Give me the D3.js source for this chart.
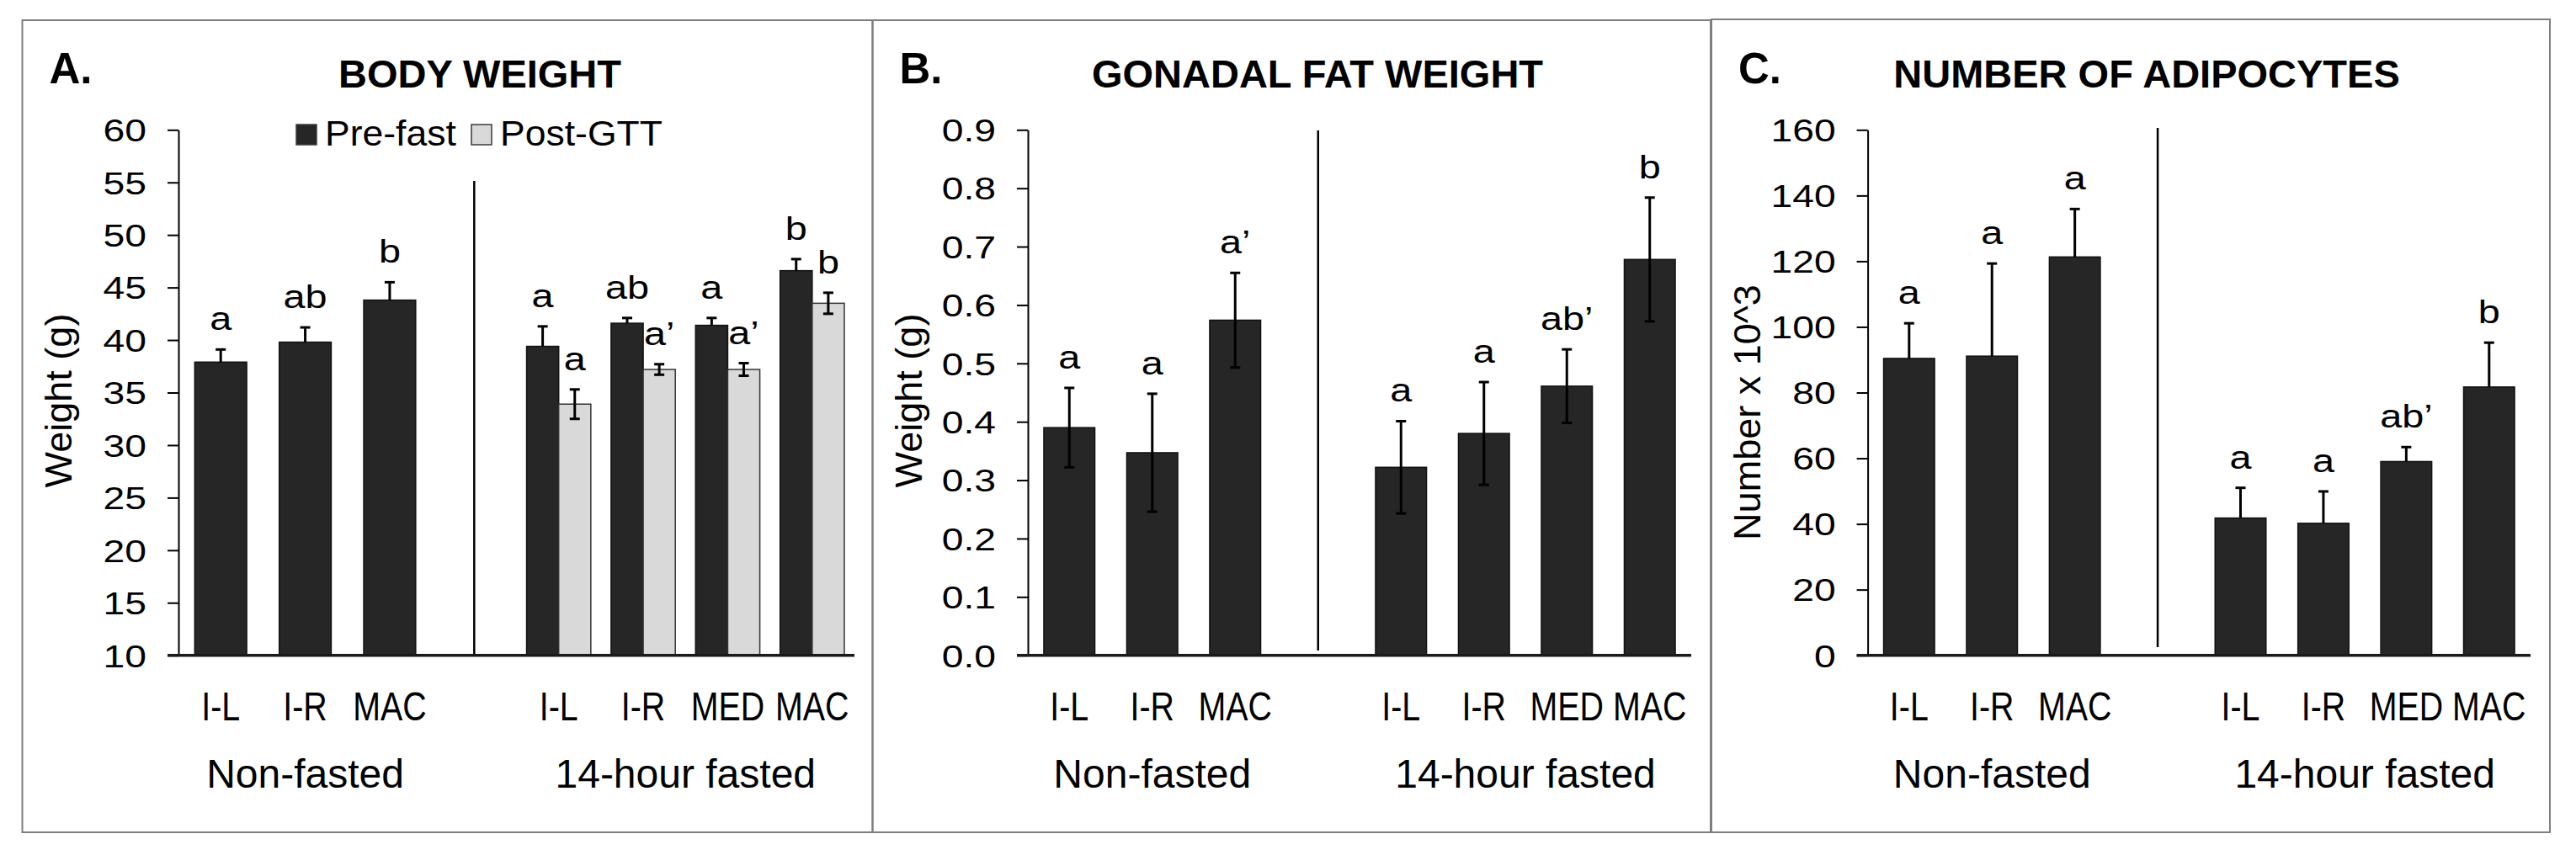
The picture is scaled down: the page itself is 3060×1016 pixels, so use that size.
<!DOCTYPE html>
<html>
<head>
<meta charset="utf-8">
<script src="https://cdn.jsdelivr.net/npm/d3@7"></script>
<style>
  body { margin: 0; background: #fff; }
  text { font-family: "Liberation Sans", Arial, sans-serif; fill: #000; }
</style>
</head>
<body>
<div class="Chart"></div>
<script>
// slot 3 is the empty gap that holds the divider line
const slotNames = ["I-L", "I-R", "MAC", "", "I-L", "I-R", "MED", "MAC"];
const groupNames = ["Non-fasted", "14-hour fasted"];
const seriesNames = ["Pre-fast", "Post-GTT"];

// A. body weight (g)
const bodyTicks = [10, 15, 20, 25, 30, 35, 40, 45, 50, 55, 60];
const bodyPreNF = [37.9, 39.8, 43.8];
const bodyPreNFErr = [1.2, 1.4, 1.7];
const bodyPreNFSig = ["a", "ab", "b"];
const bodyPreF = [39.4, 41.6, 41.4, 46.6];
const bodyPreFErr = [1.9, 0.5, 0.7, 1.1];
const bodyPreFSig = ["a", "ab", "a", "b"];
const bodyPostF = [33.9, 37.2, 37.2, 43.5];
const bodyPostFErr = [1.4, 0.5, 0.6, 1.0];
const bodyPostFSig = ["a", "a’", "a’", "b"];

// B. gonadal fat weight (g)
const fatTicks = [0, 0.1, 0.2, 0.3, 0.4, 0.5, 0.6, 0.7, 0.8, 0.9];
const fatNF = [0.390, 0.347, 0.574];
const fatNFErr = [0.068, 0.101, 0.081];
const fatNFSig = ["a", "a", "a’"];
const fatF = [0.322, 0.380, 0.461, 0.678];
const fatFErr = [0.079, 0.088, 0.063, 0.106];
const fatFSig = ["a", "a", "ab’", "b"];

// C. number of adipocytes (x 10^3)
const adipoTicks = [0, 20, 40, 60, 80, 100, 120, 140, 160];
const adipoNF = [90.4, 91.1, 121.3];
const adipoNFErr = [10.7, 28.2, 14.6];
const adipoNFSig = ["a", "a", "a"];
const adipoF = [41.8, 40.2, 59.0, 81.7];
const adipoFErr = [9.2, 9.7, 4.4, 13.5];
const adipoFSig = ["a", "a", "ab’", "b"];

const nfSlots = [0, 1, 2];
const fSlots = [4, 5, 6, 7];

const darkFill = "#262626";
const lightFill = "#d9d9d9";

const svg = d3.select(".Chart")
  .append("svg")
  .attr("width", 3060)
  .attr("height", 1016);

// text helper: stretched horizontally like the source figure
function label(g, x, y, txt, size, sx, anchor, weight) {
  return g.append("text")
    .attr("transform", `translate(${x},${y}) scale(${sx},1)`)
    .attr("text-anchor", anchor || "middle")
    .style("font-size", size + "px")
    .style("font-weight", weight || "normal")
    .text(txt);
}

const panels = [
  {
    letter: "A.", title: "BODY WEIGHT", yTitle: "Weight (g)",
    left: 26.5, right: 1036.5, top: 24, x0: 212, x1: 1015,
    titleX: 570, yTitleY: 476, divTop: 215, divBot: 779,
    ticks: bodyTicks, fmt: d3.format("d"),
    series: [
      { slots: nfSlots, values: bodyPreNF, err: bodyPreNFErr, sig: bodyPreNFSig, fill: darkFill, pos: "full", both: false },
      { slots: fSlots, values: bodyPreF, err: bodyPreFErr, sig: bodyPreFSig, fill: darkFill, pos: "left", both: false },
      { slots: fSlots, values: bodyPostF, err: bodyPostFErr, sig: bodyPostFSig, fill: lightFill, pos: "right", both: true }
    ],
    legend: true
  },
  {
    letter: "B.", title: "GONADAL FAT WEIGHT", yTitle: "Weight (g)",
    left: 1036.5, right: 2032, top: 24, x0: 1221, x1: 2009,
    titleX: 1565, yTitleY: 476, divTop: 155, divBot: 773,
    ticks: fatTicks, fmt: d3.format(".1f"),
    series: [
      { slots: nfSlots, values: fatNF, err: fatNFErr, sig: fatNFSig, fill: darkFill, pos: "full", both: true },
      { slots: fSlots, values: fatF, err: fatFErr, sig: fatFSig, fill: darkFill, pos: "full", both: true }
    ]
  },
  {
    letter: "C.", title: "NUMBER OF ADIPOCYTES", yTitle: "Number x 10^3",
    left: 2033, right: 3029, top: 23, x0: 2218.6, x1: 3006,
    titleX: 2550, yTitleY: 490, divTop: 152, divBot: 769,
    ticks: adipoTicks, fmt: d3.format("d"),
    series: [
      { slots: nfSlots, values: adipoNF, err: adipoNFErr, sig: adipoNFSig, fill: darkFill, pos: "full", both: false },
      { slots: fSlots, values: adipoF, err: adipoFErr, sig: adipoFSig, fill: darkFill, pos: "full", both: false }
    ]
  }
];

const plotTop = 154.3, plotBot = 778.7, bottom = 989;

panels.forEach(p => {
  const g = svg.append("g");

  // panel frame
  g.append("rect")
    .attr("x", p.left).attr("y", p.top)
    .attr("width", p.right - p.left).attr("height", bottom - p.top)
    .attr("fill", "none").attr("stroke", "#7f7f7f").attr("stroke-width", 2);

  label(g, p.left + 32, 99, p.letter, 51, 1, "start", "bold");
  label(g, p.titleX, 104, p.title, 47, 1, "middle", "bold");

  const y = d3.scaleLinear()
    .domain([p.ticks[0], p.ticks[p.ticks.length - 1]])
    .range([plotBot, plotTop]);

  const x = d3.scaleBand()
    .domain(d3.range(slotNames.length))
    .range([p.x0, p.x1]);
  const step = x.step();
  const center = s => x(s) + step / 2;

  // y axis
  g.append("g")
    .attr("transform", `translate(${p.x0},0)`)
    .call(d3.axisLeft(y).tickValues(p.ticks).tickFormat(p.fmt).tickSize(13).tickSizeOuter(0))
    .call(a => a.selectAll("line, path").attr("stroke", "#000").attr("stroke-width", 2))
    .call(a => a.selectAll(".tick text")
      .attr("x", -38 / 1.25)
      .attr("dy", "0.36em")
      .attr("transform", "scale(1.25,1)")
      .style("font-size", "37px"));

  // y axis title
  g.append("text")
    .attr("transform", `translate(${p.left + 58},${p.yTitleY}) rotate(-90)`)
    .attr("text-anchor", "middle")
    .style("font-size", "45px")
    .text(p.yTitle);

  // category labels
  g.append("g")
    .attr("transform", `translate(0,${plotBot})`)
    .call(d3.axisBottom(x).tickSize(0).tickFormat(i => slotNames[i]))
    .call(a => a.select(".domain").remove())
    .call(a => a.selectAll(".tick text")
      .attr("y", 77)
      .attr("dy", 0)
      .attr("transform", "scale(0.82,1)")
      .style("font-size", "48px"));

  // group labels
  label(g, d3.mean(nfSlots, center), plotBot + 157, groupNames[0], 48, 1);
  label(g, d3.mean(fSlots, center), plotBot + 157, groupNames[1], 48, 1);

  // divider between the two groups
  g.append("line")
    .attr("x1", center(3)).attr("x2", center(3))
    .attr("y1", p.divTop).attr("y2", p.divBot)
    .attr("stroke", "#000").attr("stroke-width", 2.5);

  // bars, error bars and letters
  p.series.forEach(s => {
    const rows = s.values.map((v, i) => ({ slot: s.slots[i], v: v, e: s.err[i], sig: s.sig[i] }));
    const w = s.pos === "full" ? step * 0.615 : step * 0.38;
    const bx = d => s.pos === "full" ? center(d.slot) - w / 2
      : s.pos === "left" ? center(d.slot) - w : center(d.slot);
    const cx = d => bx(d) + w / 2;

    g.selectAll(null).data(rows).enter()
      .append("rect")
      .attr("x", bx)
      .attr("y", d => y(d.v))
      .attr("width", w)
      .attr("height", d => plotBot - y(d.v))
      .attr("fill", s.fill)
      .attr("stroke", s.fill === lightFill ? "#333" : "#111")
      .attr("stroke-width", 1.5);

    const eb = g.selectAll(null).data(rows).enter().append("g")
      .attr("stroke", "#000").attr("stroke-width", 3);
    eb.append("line")
      .attr("x1", cx).attr("x2", cx)
      .attr("y1", d => y(d.v + d.e))
      .attr("y2", d => s.both ? y(d.v - d.e) : y(d.v));
    eb.append("line")
      .attr("x1", d => cx(d) - 6).attr("x2", d => cx(d) + 6)
      .attr("y1", d => y(d.v + d.e)).attr("y2", d => y(d.v + d.e));
    if (s.both) {
      eb.append("line")
        .attr("x1", d => cx(d) - 6).attr("x2", d => cx(d) + 6)
        .attr("y1", d => y(d.v - d.e)).attr("y2", d => y(d.v - d.e));
    }

    rows.forEach(d => label(g, cx(d), y(d.v + d.e) - 23, d.sig, 39, 1.2));
  });

  // x axis line, running out to the tick length like the source
  g.append("line")
    .attr("x1", p.x0 - 13).attr("x2", p.x1)
    .attr("y1", y(p.ticks[0])).attr("y2", y(p.ticks[0]))
    .attr("stroke", "#1a1a1a").attr("stroke-width", 3.5);

  if (p.legend) {
    const lx = [352, 560];
    const lg = g.append("g");
    seriesNames.forEach((name, i) => {
      lg.append("rect")
        .attr("x", lx[i]).attr("y", 148)
        .attr("width", 24).attr("height", 24)
        .attr("fill", i === 0 ? darkFill : lightFill)
        .attr("stroke", "#3a3a3a").attr("stroke-width", 1.5);
      label(lg, lx[i] + 34, 173, name, 42, 1.06, "start");
    });
  }
});
</script>
</body>
</html>
